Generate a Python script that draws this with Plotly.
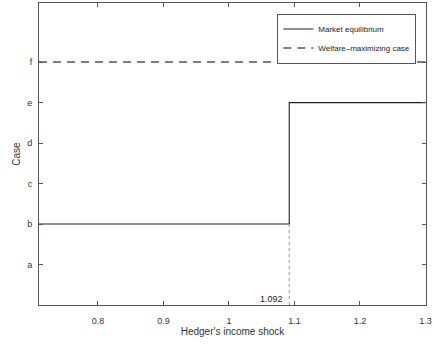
import plotly.graph_objects as go

# Data
threshold = 1.092
x_eq = [0.71, 1.092, 1.092, 1.3]
y_eq = [2, 2, 5, 5]
x_welfare = [0.71, 1.3]
y_welfare = [6, 6]
case_vals = [1, 2, 3, 4, 5, 6]
case_labels = ["a", "b", "c", "d", "e", "f"]
x_ticks = [0.8, 0.9, 1.0, 1.1, 1.2, 1.3]
x_tick_labels = ["0.8", "0.9", "1", "1.1", "1.2", "1.3"]

fig = go.Figure()
fig.add_trace(go.Scatter(x=x_eq, y=y_eq, mode="lines", name="Market equilibrium",
                         line=dict(color="#222", width=1.1)))
fig.add_trace(go.Scatter(x=x_welfare, y=y_welfare, mode="lines", name="Welfare\u2013maximizing case",
                         line=dict(color="#555555", width=1.5, dash="8px,6px")))
fig.add_trace(go.Scatter(x=[threshold, threshold], y=[0, 2], mode="lines", showlegend=False,
                         line=dict(color="#999999", width=1, dash="dot")))
fig.add_annotation(x=threshold, y=0, text=f"{threshold}", showarrow=False,
                   xanchor="right", yanchor="bottom", xshift=-4, yshift=-1,
                   font=dict(size=9, color="#222"))

axis_common = dict(showgrid=False, zeroline=False, showline=True, linecolor="#555",
                   linewidth=1, mirror="ticks", ticks="inside", ticklen=4,
                   tickcolor="#555", tickfont=dict(size=9, color="#333"))
fig.update_xaxes(range=[0.71, 1.3008], tickvals=x_ticks, ticktext=x_tick_labels,
                 ticklabelstandoff=7,
                 title=dict(text="Hedger's income shock", font=dict(size=10, color="#333"), standoff=2),
                 **axis_common)
fig.update_yaxes(range=[0, 7.46], tickvals=case_vals, ticktext=case_labels,
                 ticklabelstandoff=4,
                 title=dict(text="Case", font=dict(size=10, color="#333"), standoff=4),
                 **axis_common)

fig.update_layout(
    width=434, height=349,
    margin=dict(l=39, r=6, t=2, b=44),
    plot_bgcolor="white", paper_bgcolor="white",
    font=dict(family="Liberation Sans, Arial, sans-serif", size=9, color="#333"),
    legend=dict(x=0.975, y=0.965, xanchor="right", yanchor="top",
                bordercolor="#555", borderwidth=1, bgcolor="white",
                font=dict(size=8, color="#222"), tracegroupgap=0, itemwidth=30),
)
fig.write_html("out.html")
